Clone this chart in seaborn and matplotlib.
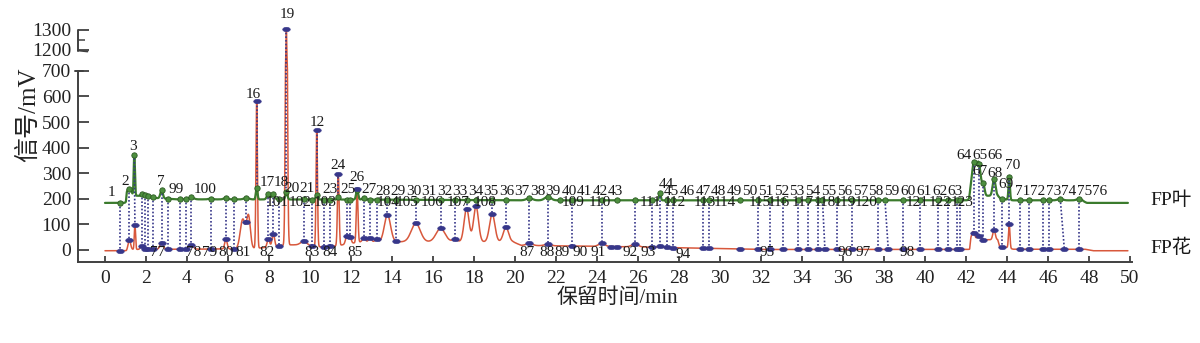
import numpy as np
import pandas as pd
import matplotlib
matplotlib.use("Agg")
import matplotlib.pyplot as plt
import matplotlib.transforms as mtransforms
import seaborn as sns

# ---------------- data ----------------
# FP叶 (leaf) trace: baseline knots and peaks (time min, height mV above baseline, width)
green_base_t = [0.0, 1.02, 1.06, 1.6, 2.5, 3.5, 12.5, 20.0, 42.15, 42.22, 43.55, 43.7, 44.3, 47.6, 47.9, 49.9]
green_base_v = [184, 184, 212, 212, 203, 198, 197, 194, 194, 212, 212, 200, 194, 194, 184, 184]
green_peak_t = [1.12, 1.25, 1.43, 1.79, 1.95, 2.11, 2.33, 2.76, 4.2, 5.15, 5.9, 6.9, 7.4, 7.97, 8.21,
                8.85, 10.33, 11.38, 12.3, 12.63, 20.7, 21.6, 27.07, 42.38, 42.62, 42.85, 43.37, 44.11,
                46.6, 47.53]
green_peak_h = [22, 22, 160, 8, 6, 5, 4, 32, 8, 3, 6, 6, 45, 22, 20,
                28, 18, 10, 38, 8, 8, 14, 28, 125, 125, 40, 65, 88,
                6, 6]
green_peak_w = [0.06, 0.06, 0.03, 0.05, 0.05, 0.05, 0.05, 0.06, 0.12, 0.1, 0.1, 0.12, 0.04, 0.07, 0.07,
                0.05, 0.05, 0.05, 0.05, 0.07, 0.15, 0.15, 0.04, 0.1, 0.1, 0.06, 0.07, 0.035,
                0.12, 0.12]

# FP花 (flower) trace
red_base_t = [0.0, 1.05, 1.12, 6.3, 7.6, 8.95, 9.5, 10.1, 10.6, 11.2, 12.5, 19.9, 20.3, 26.0, 32.0,
              42.18, 42.24, 43.55, 43.65, 44.0, 44.3, 47.8, 48.2, 49.9]
red_base_v = [-3, -3, 2, 4, 8, 20, 20, 15, 12, 15, 32, 32, 18, 12, 2,
              2, 40, 40, 12, 10, 3, 3, -3, -3]
red_peak_t = [1.19, 1.46, 1.79, 2.76, 4.2, 5.9, 6.72, 7.0, 7.4, 7.97, 8.21, 8.85, 9.7, 10.33, 11.38,
              11.79, 11.95, 12.3, 12.63, 12.93, 13.25, 13.78, 15.16, 16.37, 17.07, 17.64, 18.1, 18.89,
              19.56, 20.7, 21.6, 24.23, 25.85, 27.07, 42.35, 42.62, 43.37, 44.11]
red_peak_h = [36, 97, 15, 26, 18, 38, 115, 125, 575, 32, 50, 1285, 15, 455, 280,
              30, 25, 210, 15, 15, 12, 105, 72, 52, 10, 130, 138, 108,
              56, 8, 6, 12, 12, 4, 32, 15, 38, 95]
red_peak_w = [0.06, 0.03, 0.06, 0.08, 0.1, 0.06, 0.12, 0.09, 0.035, 0.06, 0.06, 0.045, 0.15, 0.035, 0.04,
              0.06, 0.06, 0.04, 0.07, 0.07, 0.07, 0.15, 0.22, 0.22, 0.12, 0.12, 0.12, 0.13,
              0.13, 0.15, 0.15, 0.15, 0.15, 0.1, 0.07, 0.08, 0.06, 0.035]

# dotted connections between the two traces (leaf time, flower time)
link_red_t = [0.73, 1.19, 1.46, 1.79, 1.95, 2.11, 2.33, 2.76, 3.09, 3.66, 3.95, 4.2, 5.15, 5.9, 6.29,
              6.9, 7.4, 7.97, 8.21, 8.5, 8.85, 9.7, 10.08, 10.33, 10.68, 10.98, 11.38, 11.79, 11.95,
              12.3, 12.63, 12.93, 13.25, 13.78, 14.18, 15.16, 16.37, 17.07, 17.64, 18.1, 18.89, 19.56,
              20.7, 21.6, 22.77, 24.23, 25.85, 26.67, 27.07, 27.4, 27.72, 29.15, 29.48, 31.87, 32.44,
              33.09, 33.79, 34.31, 34.8, 35.12, 35.72, 36.42, 37.72, 38.21, 38.94, 39.76, 40.65, 41.14,
              41.57, 41.7, 42.39, 42.65, 42.85, 43.37, 43.74, 44.11, 44.63, 45.09, 45.77, 46.06, 46.8,
              47.53]
link_green_t = [0.73, 1.19, 1.43, 1.79, 1.95, 2.11, 2.33, 2.76, 3.09, 3.66, 3.95, 4.2, 5.15, 5.9, 6.29,
                6.9, 7.4, 7.97, 8.21, 8.5, 8.85, 9.7, 10.08, 10.33, 10.68, 10.98, 11.38, 11.79, 11.95,
                12.3, 12.63, 12.93, 13.25, 13.78, 14.18, 15.16, 16.37, 17.07, 17.64, 18.1, 18.89, 19.56,
                20.7, 21.6, 22.77, 24.23, 25.85, 26.67, 27.07, 27.4, 27.72, 29.15, 29.48, 31.87, 32.44,
                33.09, 33.79, 34.31, 34.8, 35.0, 35.72, 36.42, 37.72, 38.05, 38.94, 39.76, 40.65, 41.14,
                41.57, 41.7, 42.39, 42.65, 42.85, 43.37, 43.74, 44.11, 44.63, 45.09, 45.77, 46.06, 46.6,
                47.53]
extra_green_t = [22.2, 25.0, 31.0]
extra_red_t = [24.7, 25.0, 31.0]

# peak number labels: text, time, level (mV)
upper_text = ['1', '2', '3', '7', '99', '100', '16', '17', '18', '19', '20', '21', '12', '23', '24', '25',
              '26', '27', '28', '29', '30', '31', '32', '33', '34', '35', '36', '37', '38', '39', '40',
              '41', '42', '43', '44', '45', '46', '47', '48', '49', '50', '51', '52', '53', '54', '55',
              '56', '57', '58', '59', '60', '61', '62', '63', '64', '65', '66', '67', '68', '69', '70',
              '71', '72', '73', '74', '75', '76']
upper_t = [0.34, 0.98, 1.37, 2.73, 3.49, 4.88, 7.22, 7.9, 8.59, 8.88, 9.12, 9.85, 10.34, 10.98, 11.37, 11.85,
           12.29, 12.88, 13.56, 14.29, 15.07, 15.80, 16.59, 17.32, 18.10, 18.83, 19.61, 20.34, 21.12, 21.85,
           22.63, 23.37, 24.15, 24.88, 27.37, 27.61, 28.39, 29.17, 29.90, 30.68, 31.46, 32.24, 33.02, 33.76,
           34.54, 35.32, 36.10, 36.88, 37.61, 38.39, 39.17, 39.95, 40.73, 41.46, 41.9, 42.68, 43.41, 42.68,
           43.41, 43.95, 44.28, 44.78, 45.51, 46.29, 47.02, 47.80, 48.54]
upper_v = [223, 266, 403, 266, 238, 238, 606, 262, 262, 1375, 242, 242, 497, 235, 332, 235,
           285, 235, 230, 230, 230, 230, 230, 230, 230, 230, 230, 230, 230, 230,
           230, 230, 230, 230, 256, 230, 230, 230, 230, 230, 230, 230, 230, 230,
           230, 230, 230, 230, 230, 230, 230, 230, 230, 230, 371, 371, 371, 306,
           300, 254, 332, 228, 228, 228, 228, 228, 228]

middle_text = ['101', '102', '103', '104', '105', '106', '107', '108', '109', '110', '111', '112', '113',
               '114', '115', '116', '117', '118', '119', '120', '121', '122', '123']
middle_t = [8.39, 9.51, 10.73, 13.8, 14.73, 15.95, 17.22, 18.54, 22.83, 24.15, 26.59, 27.8, 29.27,
            30.24, 31.95, 32.88, 34.05, 35.12, 36.1, 37.12, 39.61, 40.73, 41.8]
middle_v = 184

lower_text = ['77', '78', '79', '80', '81', '82', '83', '84', '85', '87', '88', '89', '90', '91', '92',
              '93', '94', '95', '96', '97', '98']
lower_t = [2.55, 4.34, 5.12, 5.9, 6.73, 7.9, 10.1, 10.98, 12.2, 20.59, 21.56, 22.29, 23.17, 24.05, 25.61,
           26.49, 28.2, 32.29, 36.1, 36.98, 39.12]
lower_v = [-8, -8, -8, -8, -8, -8, -8, -8, -8, -8, -8, -8, -8, -8, -8,
           -8, -16, -10, -8, -8, -8]

x_ticks = list(range(0, 51, 2))
y_ticks = [0, 100, 200, 300, 400, 500, 600, 700, 1200, 1300]
trace_names = ['FP叶', 'FP花']

# ---------------- build the traces ----------------
t = np.linspace(0.0, 49.9, 9981)


def trace(base_t, base_v, pt, ph, pw):
    y = np.interp(t, base_t, base_v)
    pt, ph, pw = map(np.asarray, (pt, ph, pw))
    y = y + np.sum(ph[:, None] * np.exp(-0.5 * ((t[None, :] - pt[:, None]) / pw[:, None]) ** 2), axis=0)
    return y


green = trace(green_base_t, green_base_v, green_peak_t, green_peak_h, green_peak_w)
red = trace(red_base_t, red_base_v, red_peak_t, red_peak_h, red_peak_w)
df_green = pd.DataFrame({'t': t, 'v': green})
df_red = pd.DataFrame({'t': t, 'v': red})

# ---------------- style ----------------
sns.set_theme(style='ticks')
plt.rcParams['font.family'] = ['Liberation Serif', 'Noto Sans CJK SC', 'DejaVu Sans']
axis_col = '#404040'
green_col = '#3b7b2d'
red_col = '#d8583c'
navy = '#37378a'

fig = plt.figure(figsize=(12, 3.43), dpi=100)
ax = fig.add_axes([78 / 1200, 1 - 262 / 343, (1132 - 78) / 1200, (262 - 8) / 343])


def fwd(y):
    y = np.asarray(y, dtype=float)
    return np.where(y <= 700, y, np.where(y <= 1200, 700 + (y - 700) * 0.164, 782 + (y - 1200) * 0.78))


def inv(z):
    z = np.asarray(z, dtype=float)
    return np.where(z <= 700, z, np.where(z <= 782, 700 + (z - 700) / 0.164, 1200 + (z - 782) / 0.78))


ax.set_yscale('function', functions=(fwd, inv))

sns.lineplot(data=df_red, x='t', y='v', ax=ax, color=red_col, linewidth=1.1,
             estimator=None, sort=False, zorder=2)
sns.lineplot(data=df_green, x='t', y='v', ax=ax, color=green_col, linewidth=1.6,
             estimator=None, sort=False, zorder=3)

# dotted connections
g_link_v = np.interp(link_green_t, t, green)
r_link_v = np.interp(link_red_t, t, red)
for tg, vg, tr, vr in zip(link_green_t, g_link_v, link_red_t, r_link_v):
    ax.plot([tg, tr], [vg, vr], color=navy, linestyle=(0, (1.0, 1.2)), linewidth=1.2, zorder=4)

# markers
ang = np.linspace(0, 2 * np.pi, 25)
ellipse = list(zip(1.7 * np.cos(ang), np.sin(ang)))
gm_t = list(link_green_t) + list(extra_green_t)
rm_t = list(link_red_t) + list(extra_red_t)
sns.scatterplot(x=gm_t, y=np.interp(gm_t, t, green), ax=ax, marker='o', s=15,
                color='#4d8f3e', edgecolor='#2c5a24', linewidth=0.6, zorder=5)
sns.scatterplot(x=rm_t, y=np.interp(rm_t, t, red), ax=ax, marker=ellipse, s=30,
                color=navy, edgecolor=navy, linewidth=0.4, zorder=6)

# peak labels
lab_kw = dict(ha='center', va='center', fontsize=11, color='#1a1a1a', zorder=7)
for s, x, y in zip(upper_text, upper_t, upper_v):
    ax.text(x, y, s, **lab_kw)
for s, x in zip(middle_text, middle_t):
    ax.text(x, middle_v, s, **lab_kw)
for s, x, y in zip(lower_text, lower_t, lower_v):
    ax.text(x, y, s, **lab_kw)

# trace names
ax.text(51.0, 196, trace_names[0], ha='left', va='center', fontsize=14, color='#1a1a1a', clip_on=False)
ax.text(51.0, 8, trace_names[1], ha='left', va='center', fontsize=14, color='#1a1a1a', clip_on=False)

# axes
ax.set_xlim(-1.317, 50.1)
ax.set_ylim(-47, 1410)
ax.set_xticks(x_ticks)
ax.set_xticklabels([str(v) for v in x_ticks])
ax.set_yticks(y_ticks)
ax.set_yticklabels([str(v) for v in y_ticks])
ax.set_yticks([1250], minor=True)
ax.tick_params(axis='y', which='major', direction='in', length=8, width=1.3, colors=axis_col,
               labelsize=14, pad=5, labelcolor='#222222')
ax.tick_params(axis='y', which='minor', direction='in', length=5, width=1.1, colors=axis_col)
ax.tick_params(axis='x', which='major', direction='in', length=4, width=1.3, colors=axis_col,
               labelsize=14, pad=6, labelcolor='#222222')
ax.set_xlabel('')
ax.set_ylabel('')
for side in ['top', 'right']:
    ax.spines[side].set_visible(False)
for side in ['left', 'bottom']:
    ax.spines[side].set_color(axis_col)
    ax.spines[side].set_linewidth(1.4)
ax.spines['left'].set_bounds(-47, 700)
trans = mtransforms.blended_transform_factory(ax.transAxes, ax.transData)
ax.plot([0, 0], [1175, 1300], transform=trans, color=axis_col, linewidth=1.4, clip_on=False, zorder=8)
ax.plot([0, 0.009], [1185, 1160], transform=trans, color=axis_col, linewidth=1.2, clip_on=False, zorder=8)
ax.plot([-0.003, 0.005], [700, 700], transform=trans, color=axis_col, linewidth=1.4, clip_on=False, zorder=8)

fig.text(28 / 1200, 1 - 115 / 343, '信号/mV', rotation=90, ha='center', va='center', fontsize=18,
         color='#222222')
fig.text(617 / 1200, 1 - 298 / 343, '保留时间/min', ha='center', va='center', fontsize=15,
         color='#222222')

fig.savefig('out.png', dpi=100, facecolor='white')
